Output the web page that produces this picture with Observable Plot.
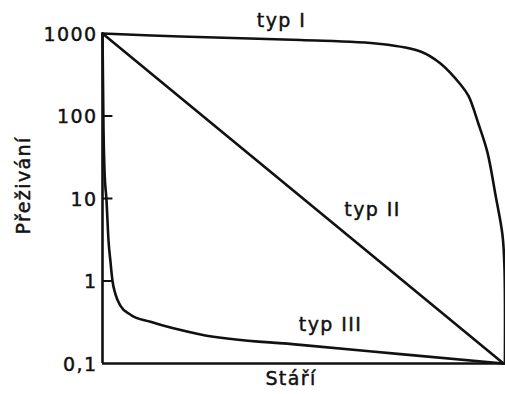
<!DOCTYPE html>
<html>
<head>
<meta charset="utf-8">
<script src="https://cdn.jsdelivr.net/npm/d3@7"></script>
<script src="https://cdn.jsdelivr.net/npm/@observablehq/plot@0.6"></script>
<style>
  html, body { margin: 0; padding: 0; background: #fff; }
  #chart svg { display: block; }
</style>
</head>
<body>
<div id="chart"></div>
<script>
// Survivorship curves (age axis, survivors on log scale)
const typeIAge  = [0, 19.5, 49.5, 69.5, 79.5, 84.5, 89.5, 91.5, 94, 96.25, 98.25, 100, 100.5, 100.6];
const typeIVal  = [1000, 920, 834, 746, 605, 433, 241, 175, 80, 36, 11, 3.6, 1.4, 0.1];
const typeIIAge = [0, 100.25];
const typeIIVal = [1000, 0.1];
const typeIIIAge = [0, 0.25, 0.5, 1.0, 1.5, 2.0, 2.5, 3.25, 4.5, 7, 12, 24.5, 49.5, 74.5, 100.25];
const typeIIIVal = [1000, 70, 22, 9.5, 3.1, 1.7, 1.0, 0.69, 0.5, 0.39, 0.32, 0.225, 0.168, 0.13, 0.1];
const yTicks = [0.1, 1, 10, 100, 1000];
const yTickLabels = ["0,1", "1", "10", "100", "1000"];
const innerTicks = [1, 10, 100];
const curveNames = ["typ I", "typ II", "typ III"];
const labelAge = [44.75, 67.5, 57];
const labelVal = [1438, 7.2, 0.29];
const xTitle = "Stáří";
const yTitle = "Přeživání";

const toRows = (ages, vals) => ages.map((a, i) => ({age: a, val: vals[i]}));
const curves = [toRows(typeIAge, typeIVal), toRows(typeIIAge, typeIIVal), toRows(typeIIIAge, typeIIIVal)];
const curveKinds = ["catmull-rom", "linear", "monotone-x"];
const labels = curveNames.map((n, i) => ({name: n, age: labelAge[i], val: labelVal[i]}));
const tickRows = yTicks.map((v, i) => ({v, label: yTickLabels[i]}));

const font = "'DejaVu Sans', 'Liberation Sans', sans-serif";
const ink = "#111";
const txt = {fontSize: 19, fill: ink, stroke: ink, strokeWidth: 0.45};

const chart = Plot.plot({
  width: 505,
  height: 394,
  marginLeft: 102,
  marginRight: 0,
  marginTop: 33,
  marginBottom: 31,
  style: {fontFamily: font, background: "#fff", color: ink, letterSpacing: "1.4px"},
  x: {domain: [0, 100.75], axis: null},
  y: {type: "log", domain: [0.1, 1000], axis: null},
  marks: [
    Plot.text(tickRows, {x: 0, y: "v", text: "label", textAnchor: "end", dx: -5, dy: 1, ...txt}),
    Plot.ruleY(innerTicks, {x1: 0, x2: 2.6, stroke: ink, strokeWidth: 2}),
    ...curves.map((c, i) => Plot.line(c, {x: "age", y: "val", curve: curveKinds[i], stroke: ink, strokeWidth: 2.6})),
    Plot.ruleX([0], {stroke: ink, strokeWidth: 2.6}),
    Plot.ruleY([0.1], {stroke: ink, strokeWidth: 2.6}),
    Plot.text(labels, {x: "age", y: "val", text: "name", textAnchor: "middle", ...txt}),
    Plot.text([yTitle], {x: -19.75, y: 14.4, rotate: -90, ...txt}),
    Plot.text([xTitle], {frameAnchor: "bottom", dx: -13, dy: 21, ...txt})
  ]
});
document.getElementById("chart").appendChild(chart);
</script>
</body>
</html>
